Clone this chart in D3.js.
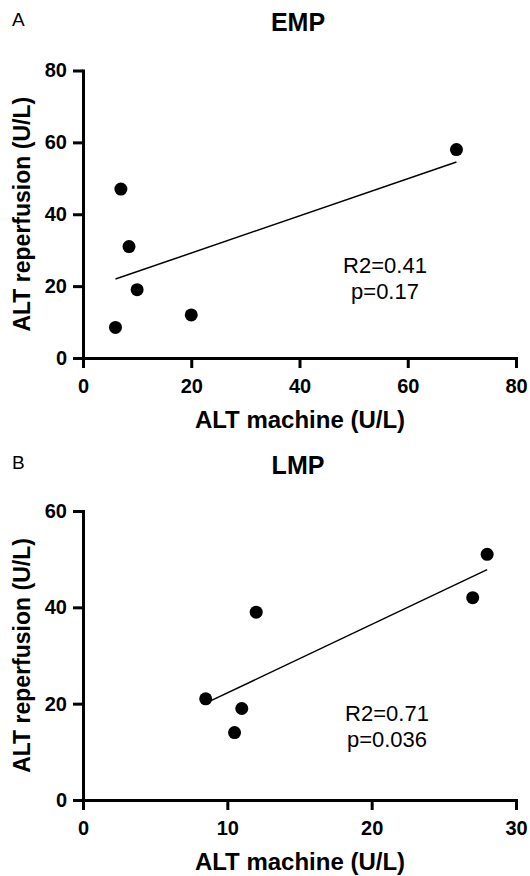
<!DOCTYPE html>
<html>
<head>
<meta charset="utf-8">
<script src="https://cdn.jsdelivr.net/npm/d3@7"></script>
<style>
    body { margin: 0; background: #fff; }
    text { font-family: "Liberation Sans", Arial, sans-serif; }
</style>
</head>
<body>
<div id="chart"></div>
<script>
// data
// panel A - EMP
var empMachine = [6, 7, 8.5, 10, 20, 69];
var empReperfusion = [8.5, 47, 31, 19, 12, 58];
var empXTicks = [0, 20, 40, 60, 80];
var empYTicks = [0, 20, 40, 60, 80];
var empStats = ["R2=0.41", "p=0.17"];

// panel B - LMP
var lmpMachine = [8.5, 10.5, 11, 12, 27, 28];
var lmpReperfusion = [21, 14, 19, 39, 42, 51];
var lmpXTicks = [0, 10, 20, 30];
var lmpYTicks = [0, 20, 40, 60];
var lmpStats = ["R2=0.71", "p=0.036"];

let width = 530;
let height = 876;

var svg = d3.select("#chart")
    .append("svg")
    .attr("width", width)
    .attr("height", height);

//least squares fit, the line only spans the data like in prism
var fitLine = function(xs, ys) {
    let n = xs.length;
    let mx = d3.mean(xs);
    let my = d3.mean(ys);
    let sxy = 0, sxx = 0;
    for (let i = 0; i < n; i++) {
        sxy += (xs[i] - mx) * (ys[i] - my);
        sxx += (xs[i] - mx) * (xs[i] - mx);
    }
    let slope = sxy / sxx;
    let icpt = my - slope * mx;
    let x0 = d3.min(xs), x1 = d3.max(xs);
    return [[x0, icpt + slope * x0], [x1, icpt + slope * x1]];
};

var drawPanel = function(p) {
    var g = svg.append("g");

    var x = d3.scaleLinear()
        .domain([p.xTicks[0], p.xTicks[p.xTicks.length - 1]])
        .range([83, 516]);

    var y = d3.scaleLinear()
        .domain([p.yTicks[0], p.yTicks[p.yTicks.length - 1]])
        .range([p.bottom, p.top]);

    //panel letter
    g.append("text")
        .attr("x", 12)
        .attr("y", p.letterY)
        .attr("font-size", 19)
        .text(p.letter);

    //title
    g.append("text")
        .attr("x", 298)
        .attr("y", p.titleY)
        .attr("text-anchor", "middle")
        .attr("font-size", 25)
        .attr("font-weight", "bold")
        .text(p.title);

    //regression line first so dots sit on top
    var pts = fitLine(p.xs, p.ys);
    g.append("line")
        .attr("x1", x(pts[0][0]))
        .attr("y1", y(pts[0][1]))
        .attr("x2", x(pts[1][0]))
        .attr("y2", y(pts[1][1]))
        .attr("stroke", "#000")
        .attr("stroke-width", 1.5);

    g.selectAll(".dot")
        .data(p.xs.map((d, i) => ({x: d, y: p.ys[i]})))
        .enter().append("circle")
        .attr("class", "dot")
        .attr("cx", d => x(d.x))
        .attr("cy", d => y(d.y))
        .attr("r", 6.5)
        .attr("fill", "#000");

    //axes
    var xAxis = g.append("g")
        .attr("transform", "translate(0," + p.bottom + ")")
        .call(d3.axisBottom(x).tickValues(p.xTicks).tickSize(10).tickSizeOuter(0).tickPadding(11));

    var yAxis = g.append("g")
        .attr("transform", "translate(83,0)")
        .call(d3.axisLeft(y).tickValues(p.yTicks).tickSize(10).tickSizeOuter(0).tickPadding(6));

    [xAxis, yAxis].forEach(a => {
        a.select(".domain").attr("stroke-width", 3).attr("stroke-linecap", "square");
        a.selectAll(".tick line").attr("stroke-width", 3);
        a.selectAll(".tick text")
            .attr("font-size", 20)
            .attr("font-weight", "bold")
            .attr("font-family", "'Liberation Sans', Arial, sans-serif")
            .attr("fill", "#000");
    });

    //axis titles
    g.append("text")
        .attr("x", 300)
        .attr("y", p.bottom + 70)
        .attr("text-anchor", "middle")
        .attr("font-size", 24)
        .attr("font-weight", "bold")
        .text("ALT machine (U/L)");

    g.append("text")
        .attr("transform", "translate(30," + (p.top + p.bottom) / 2 + ") rotate(-90)")
        .attr("text-anchor", "middle")
        .attr("font-size", 23)
        .attr("font-weight", "bold")
        .text("ALT reperfusion (U/L)");

    //stats
    g.selectAll(".stat")
        .data(p.stats)
        .enter().append("text")
        .attr("class", "stat")
        .attr("x", p.statX)
        .attr("y", (d, i) => p.statY + i * 26)
        .attr("text-anchor", "middle")
        .attr("font-size", 22)
        .text(d => d);
};

drawPanel({
    letter: "A", letterY: 26, title: "EMP", titleY: 31,
    xs: empMachine, ys: empReperfusion,
    xTicks: empXTicks, yTicks: empYTicks,
    top: 70.5, bottom: 358,
    stats: empStats, statX: 385, statY: 273
});

drawPanel({
    letter: "B", letterY: 469, title: "LMP", titleY: 474,
    xs: lmpMachine, ys: lmpReperfusion,
    xTicks: lmpXTicks, yTicks: lmpYTicks,
    top: 511, bottom: 800,
    stats: lmpStats, statX: 387, statY: 721
});
</script>
</body>
</html>
